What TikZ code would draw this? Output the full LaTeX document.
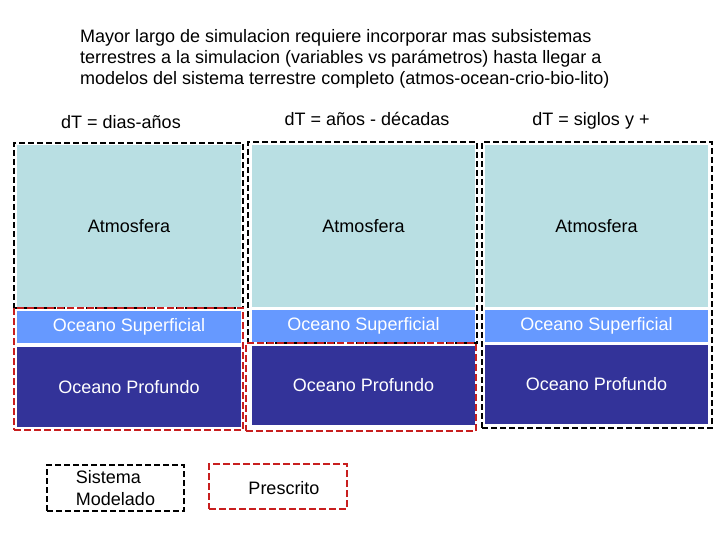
\documentclass[tikz,border=0pt]{standalone}
\usepackage{fontspec}
\setmainfont{Liberation Sans}
\begin{document}
\begin{tikzpicture}[x=1pt,y=-1pt,
  every node/.style={font=\fontsize{18}{22}\selectfont, inner sep=0pt},
  layer/.style={draw=none, minimum width=#1, anchor=center},
  atm/.style={layer=#1, fill=atmcol, text=black},
  sup/.style={layer=#1, fill=supcol, text=white},
  deep/.style={layer=#1, fill=deepcol, text=white},
  modbox/.style={draw=black, line width=2pt, dash pattern=on 6pt off 3pt, fill=none},
  prebox/.style={draw=precol, line width=2pt, dash pattern=on 7pt off 3pt, fill=none},
  lbl/.style={anchor=base}
]
\definecolor{atmcol}{RGB}{185,223,227}
\definecolor{supcol}{RGB}{102,153,255}
\definecolor{deepcol}{RGB}{51,51,153}
\definecolor{precol}{RGB}{200,30,30}
\useasboundingbox[fill=white] (0,0) rectangle (720,540);

% title
\node[anchor=base west] (t1) at (80,43) {Mayor largo de simulacion requiere incorporar mas subsistemas};
\node[anchor=base west] (t2) at (80,64) {terrestres a la simulacion (variables vs parámetros) hasta llegar a};
\node[anchor=base west] (t3) at (80,85) {modelos del sistema terrestre completo (atmos-ocean-crio-bio-lito)};

% headers
\node[lbl] (h1) at (121,129) {dT = dias-años};
\node[lbl] (h2) at (367,126) {dT = años - décadas};
\node[lbl] (h3) at (591,126) {dT = siglos y +};

% column 1
\node[atm=224pt, minimum height=162pt] (a1) at (129,226) {Atmosfera};
\node[sup=224pt, minimum height=32pt] (s1) at (129,327) {Oceano Superficial};
\node[deep=224pt, minimum height=80pt] (d1) at (129,387) {Oceano Profundo};
% column 2
\node[atm=223pt, minimum height=162pt] (a2) at (363.5,226) {Atmosfera};
\node[sup=223pt, minimum height=32pt] (s2) at (363.5,326) {Oceano Superficial};
\node[deep=223pt, minimum height=79pt] (d2) at (363.5,385.5) {Oceano Profundo};
% column 3
\node[atm=223pt, minimum height=162pt] (a3) at (596.5,226) {Atmosfera};
\node[sup=223pt, minimum height=32pt] (s3) at (596.5,326) {Oceano Superficial};
\node[deep=223pt, minimum height=79pt] (d3) at (596.5,384.5) {Oceano Profundo};

% modelled / prescribed frames
\node[modbox, minimum width=229pt, minimum height=165pt] (m1) at (128.5,225.5) {};
\node[prebox, minimum width=229pt, minimum height=122pt] (p1) at (128.5,369) {};
\node[modbox, minimum width=229pt, minimum height=201pt] (m2) at (362.5,242.5) {};
\node[prebox, minimum width=230pt, minimum height=88pt] (p2) at (361,387) {};
\node[modbox, minimum width=230pt, minimum height=286pt] (m3) at (597,285) {};

% legend
\node[modbox, minimum width=137pt, minimum height=46pt, align=left] (lg1) at (115.5,488) {Sistema\\Modelado};
\node[prebox, minimum width=138pt, minimum height=45pt] (lg2) at (278,486.5) {};
\node (lg2t) at (284,488) {Prescrito};
\end{tikzpicture}
\end{document}
